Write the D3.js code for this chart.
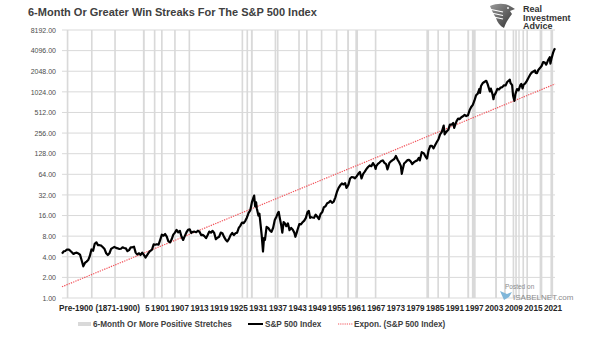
<!DOCTYPE html>
<html lang="en">
<head>
<meta charset="utf-8">
<title>6-Month Win Streaks S&amp;P 500</title>
<script src="https://cdn.jsdelivr.net/npm/d3@7/dist/d3.min.js"></script>
<style>
body { margin: 0; background: #fff; }
text { font-family: "Liberation Sans", Arial, sans-serif; }
.ylab text { font-size: 7px; fill: #4d4d4d; }
.xlab { font-size: 8.2px; font-weight: bold; fill: #262626; }
.leg { font-size: 8.2px; font-weight: bold; fill: #404040; }
</style>
</head>
<body>
<script>
// S&P 500 index, [decimal year, level]
var spx = [
 [1871.0,4.44],[1871.5,4.8],[1872.0,4.86],[1872.5,5.1],[1873.0,5.11],[1873.5,4.9],[1874.0,4.66],[1874.5,4.4],
 [1875.0,4.54],[1875.5,4.6],[1876.0,4.46],[1876.5,4.3],[1877.0,3.55],[1877.5,2.9],[1878.0,3.25],[1878.5,3.4],
 [1879.0,3.58],[1879.5,4.1],[1880.0,5.11],[1880.5,4.9],[1881.0,6.19],[1881.5,6.5],[1882.0,5.92],[1882.5,5.9],
 [1883.0,5.81],[1883.5,5.5],[1884.0,5.18],[1884.5,4.5],[1885.0,4.24],[1885.5,4.5],[1886.0,5.2],[1886.5,5.4],
 [1887.0,5.58],[1887.5,5.4],[1888.0,5.31],[1888.5,5.2],[1889.0,5.24],[1889.5,5.5],[1890.0,5.38],[1890.5,5.3],
 [1891.0,4.84],[1891.5,5.0],[1892.0,5.51],[1892.5,5.5],[1893.0,5.61],[1893.5,4.6],[1894.0,4.32],[1894.5,4.5],
 [1895.0,4.25],[1895.5,4.6],[1896.0,4.27],[1896.5,3.9],[1897.0,4.22],[1897.5,4.6],[1898.0,4.88],[1898.5,5.1],
 [1899.0,6.08],[1899.5,6.0],[1900.0,6.1],[1900.5,6.0],[1901.0,7.07],[1901.5,8.4],[1902.0,8.12],[1902.5,8.6],
 [1903.0,7.86],[1903.5,6.7],[1904.0,6.48],[1904.5,7.2],[1905.0,8.43],[1905.5,9.0],[1906.0,9.87],[1906.5,9.1],
 [1907.0,9.56],[1907.5,7.9],[1908.0,7.04],[1908.5,8.0],[1909.0,9.06],[1909.5,9.9],[1910.0,10.08],[1910.5,8.9],
 [1911.0,9.27],[1911.5,9.3],[1912.0,9.12],[1912.5,9.6],[1913.0,9.3],[1913.5,8.3],[1914.0,8.37],[1914.5,8.0],
 [1915.0,7.48],[1915.5,8.3],[1916.0,9.33],[1916.5,9.0],[1917.0,9.57],[1917.5,8.9],[1918.0,7.21],[1918.5,7.6],
 [1919.0,7.85],[1919.5,9.0],[1920.0,8.83],[1920.5,7.8],[1921.0,7.11],[1921.5,6.7],[1922.0,7.3],[1922.5,8.3],
 [1923.0,8.9],[1923.5,8.3],[1924.0,8.83],[1924.5,9.0],[1925.0,10.58],[1925.5,11.4],[1926.0,12.65],[1926.5,12.4],
 [1927.0,13.4],[1927.5,15.0],[1928.0,17.53],[1928.5,19.0],[1929.0,24.86],[1929.5,29.5],[1929.7,31.3],[1930.0,21.71],
 [1930.3,25.0],[1930.5,20.5],[1931.0,15.98],[1931.3,17.0],[1931.5,14.0],[1932.0,8.3],[1932.4,4.77],[1932.7,7.5],
 [1933.0,7.09],[1933.5,10.9],[1934.0,10.54],[1934.5,9.7],[1935.0,9.26],[1935.5,10.6],[1936.0,13.76],[1936.5,15.4],
 [1937.0,17.59],[1937.2,18.1],[1937.5,15.0],[1938.0,11.31],[1938.3,9.0],[1938.7,12.8],[1939.0,12.5],[1939.5,11.2],
 [1940.0,12.3],[1940.5,9.8],[1941.0,10.55],[1941.5,9.9],[1942.0,8.93],[1942.3,7.84],[1942.7,9.0],[1943.0,10.09],
 [1943.5,12.0],[1944.0,11.85],[1944.5,12.8],[1945.0,13.49],[1945.5,14.8],[1946.0,18.02],[1946.4,18.7],[1946.8,14.8],
 [1947.0,15.21],[1947.5,15.0],[1948.0,14.83],[1948.5,16.5],[1949.0,15.36],[1949.5,14.2],[1950.0,16.88],[1950.5,18.0],
 [1951.0,21.21],[1951.5,21.8],[1952.0,24.19],[1952.5,24.8],[1953.0,26.18],[1953.5,24.5],[1954.0,25.46],[1954.5,29.5],
 [1955.0,35.6],[1955.5,40.5],[1956.0,44.15],[1956.5,47.0],[1957.0,45.43],[1957.5,47.4],[1957.9,40.4],[1958.0,41.12],
 [1958.5,45.2],[1959.0,55.62],[1959.5,58.4],[1960.0,58.03],[1960.5,56.0],[1961.0,59.72],[1961.5,65.0],[1962.0,69.07],
 [1962.5,55.6],[1963.0,65.06],[1963.5,69.9],[1964.0,76.45],[1964.5,81.6],[1965.0,86.12],[1965.5,84.0],[1966.0,93.32],
 [1966.5,86.0],[1966.8,76.6],[1967.0,84.45],[1967.5,91.0],[1968.0,95.04],[1968.5,100.0],[1969.0,102.0],[1969.5,94.0],
 [1970.0,90.31],[1970.4,75.6],[1970.7,83.0],[1971.0,93.49],[1971.5,99.0],[1972.0,103.3],[1972.5,107.0],[1973.0,118.4],
 [1973.5,105.0],[1974.0,96.11],[1974.5,85.0],[1974.8,65.0],[1975.0,72.56],[1975.5,92.0],[1976.0,96.86],[1976.5,103.0],
 [1977.0,103.8],[1977.5,99.0],[1978.0,90.25],[1978.5,96.0],[1979.0,99.71],[1979.5,102.0],[1980.0,110.9],[1980.3,102.0],
 [1980.9,135.0],[1981.0,132.97],[1981.5,130.0],[1982.0,117.3],[1982.5,109.0],[1983.0,144.3],[1983.5,166.0],[1984.0,166.4],
 [1984.5,153.0],[1985.0,171.6],[1985.5,190.0],[1986.0,208.2],[1986.5,245.0],[1987.0,264.5],[1987.6,329.0],[1987.9,245.0],
 [1988.0,250.5],[1988.5,270.0],[1989.0,285.4],[1989.5,340.0],[1990.0,339.97],[1990.5,360.0],[1990.8,305.0],[1991.0,325.5],
 [1991.5,380.0],[1992.0,416.1],[1992.5,410.0],[1993.0,435.2],[1993.5,450.0],[1994.0,472.99],[1994.5,454.0],[1995.0,465.25],
 [1995.5,550.0],[1996.0,614.42],[1996.5,660.0],[1997.0,766.22],[1997.5,915.0],[1998.0,963.36],[1998.5,1130.0],[1998.7,990.0],
 [1999.0,1248.8],[1999.5,1370.0],[2000.0,1425.6],[2000.6,1485.0],[2001.0,1335.6],[2001.7,1040.0],[2002.0,1140.2],[2002.5,950.0],
 [2002.8,800.0],[2003.0,895.8],[2003.5,990.0],[2004.0,1132.5],[2004.5,1110.0],[2005.0,1181.4],[2005.5,1200.0],[2006.0,1278.7],
 [2006.5,1270.0],[2007.0,1424.2],[2007.5,1500.0],[2007.8,1540.0],[2008.0,1378.8],[2008.5,1280.0],[2008.8,900.0],[2009.2,757.0],
 [2009.5,950.0],[2010.0,1123.6],[2010.5,1080.0],[2011.0,1282.6],[2011.3,1340.0],[2011.7,1150.0],[2012.0,1300.6],[2012.5,1360.0],
 [2013.0,1480.4],[2013.5,1640.0],[2014.0,1822.4],[2014.5,1960.0],[2015.0,2028.2],[2015.5,2100.0],[2015.7,1940.0],[2016.1,1918.6],
 [2016.5,2140.0],[2017.0,2275.0],[2017.5,2440.0],[2018.0,2789.8],[2018.5,2740.0],[2018.9,2567.0],[2019.0,2607.0],[2019.5,2980.0],
 [2020.0,3278.0],[2020.2,2652.0],[2020.5,3100.0],[2021.0,3793.0],[2021.3,4150.0],[2021.6,4430.0]
];

// 6-month-or-more positive stretches: start year and length in months
var streakStart  = [1872.45,1879.85,1886.95,1895.7,1899.05,1901.25,1905.25,1909.65,1925.85,1927.35,1928.7,1935.95,1936.65,
                    1943.15,1945.55,1950.05,1954.65,1958.1,1960.6,1966.55,1982.3,1985.65,1988.9,1994.8,1996.2,2003.3,
                    2006.0,2008.65,2009.45,2010.4,2011.65,2012.85,2016.9,2020.2];
var streakMonths = [6,6,6,7,6,6,6,6,6,6,7,6,6,6,6,6,6,7,10,6,10,6,7,7,14,7,7,6,6,5,6,6,10,10];

// exponential trend end points [year, level]
var trendYears  = [1871, 2021.6];
var trendValues = [1.46, 1333];

var yTicks = [1,2,4,8,16,32,64,128,256,512,1024,2048,4096,8192];
var xTickYears = [1895,1901,1907,1913,1919,1925,1931,1937,1943,1949,1955,1961,1967,1973,1979,1985,1991,1997,2003,2009,2015,2021];

(function(){
    var w = 605, h = 341;
    var pL = 62, pR = 555, pT = 30, pB = 298;

    var svg = d3.select("body").append("svg")
        .attr("width", w).attr("height", h)
        .style("background-color", "#fff");
    var defs = svg.append("defs");

    var x = d3.scaleLinear().domain([1871, 2021.6]).range([pL, pR]);
    var y = d3.scaleLog().base(2).domain([1, 8192]).range([pB, pT]);

    // title
    svg.append("text")
        .attr("x", 28).attr("y", 15.8)
        .style("font-size", "11px").style("font-weight", "bold").style("fill", "#404040")
        .text("6-Month Or Greater Win Streaks For The S&P 500 Index");

    // horizontal grid
    svg.append("g").selectAll("line").data(yTicks).enter().append("line")
        .attr("x1", pL).attr("x2", pR)
        .attr("y1", function(d){ return y(d); }).attr("y2", function(d){ return y(d); })
        .style("stroke", "#d9d9d9").style("stroke-width", 1);

    // streak bands
    svg.append("g").selectAll("rect").data(streakStart).enter().append("rect")
        .attr("x", function(d){ return x(d); })
        .attr("width", function(d, i){ return x(d + streakMonths[i] / 12) - x(d); })
        .attr("y", pT).attr("height", pB - pT)
        .style("fill", "#d9d9d9");

    // y axis labels
    var yAxis = d3.axisLeft(y).tickValues(yTicks).tickFormat(d3.format(".2f")).tickSize(0).tickPadding(6);
    var yg = svg.append("g").attr("class", "ylab").attr("transform", "translate(" + pL + ",0)").call(yAxis);
    yg.select(".domain").remove();
    yg.selectAll("text").attr("font-family", null).attr("font-size", null);

    // x labels; the first one sits under the Pre-1900 box, only its tail shows
    defs.append("clipPath").attr("id", "xclip")
        .append("rect").attr("x", 145.5).attr("y", 295).attr("width", 460).attr("height", 20);
    svg.append("g").attr("clip-path", "url(#xclip)")
        .selectAll("text").data(xTickYears).enter().append("text")
        .attr("class", "xlab")
        .attr("x", function(d){ return x(d); }).attr("y", 310.8)
        .attr("text-anchor", "middle")
        .text(function(d){ return d; });

    svg.append("text").attr("class", "xlab")
        .attr("x", 59).attr("y", 310.8)
        .text("Pre-1900 (1871-1900)");

    // trend line
    svg.append("path")
        .datum(d3.zip(trendYears, trendValues))
        .attr("d", d3.line().x(function(d){ return x(d[0]); }).y(function(d){ return y(d[1]); }))
        .style("fill", "none").style("stroke", "#f2545b").style("stroke-width", 1.2)
        .style("stroke-dasharray", "1.3,1.1");

    // index line
    svg.append("path")
        .datum(spx)
        .attr("d", d3.line().x(function(d){ return x(d[0]); }).y(function(d){ return y(d[1]); }))
        .style("fill", "none").style("stroke", "#000").style("stroke-width", 2.2)
        .style("stroke-linejoin", "round");

    // legend
    var lg = svg.append("g");
    lg.append("rect").attr("x", 78).attr("y", 322).attr("width", 13).attr("height", 4).style("fill", "#d9d9d9");
    lg.append("text").attr("class", "leg").attr("x", 93).attr("y", 327.3).text("6-Month Or More Positive Stretches");
    lg.append("line").attr("x1", 248).attr("x2", 263).attr("y1", 324).attr("y2", 324)
        .style("stroke", "#000").style("stroke-width", 2);
    lg.append("text").attr("class", "leg").attr("x", 265).attr("y", 327.3).text("S&P 500 Index");
    lg.append("line").attr("x1", 338).attr("x2", 353).attr("y1", 324).attr("y2", 324)
        .style("stroke", "#f2545b").style("stroke-width", 1).style("stroke-dasharray", "1.2,1");
    lg.append("text").attr("class", "leg").attr("x", 354).attr("y", 327.3).text("Expon. (S&P 500 Index)");

    // logo
    var logo = svg.append("g").attr("transform", "translate(489,3)");
    var grad = defs.append("linearGradient").attr("id", "eg")
        .attr("x1", 0).attr("y1", 0).attr("x2", 1).attr("y2", 1);
    grad.append("stop").attr("offset", 0).attr("stop-color", "#9a9a9a");
    grad.append("stop").attr("offset", 1).attr("stop-color", "#2f2f2f");
    logo.append("path")
        .attr("d", "M1,3 C8,0 16,0 21,3 L26,6 L21,8 L23,11 C20,15 17,19 15,25 C11,23 8,19 7,15 C5,12 3,8 1,3 Z")
        .style("fill", "url(#eg)");
    [6, 9.5, 13].forEach(function(yy){
        logo.append("line").attr("x1", 0).attr("x2", 14).attr("y1", yy).attr("y2", yy + 3)
            .style("stroke", "#fff").style("stroke-width", 1.2);
    });
    logo.append("circle").attr("cx", 19).attr("cy", 5).attr("r", 0.9).style("fill", "#fff");
    var lt = svg.append("g").style("font-size", "9px").style("font-weight", "bold").style("fill", "#333");
    lt.append("text").attr("x", 523).attr("y", 12).text("Real");
    lt.append("text").attr("x", 523).attr("y", 20.5).text("Investment");
    lt.append("text").attr("x", 523).attr("y", 29).text("Advice");

    // watermark
    svg.append("text").attr("x", 505).attr("y", 288.5).style("font-size", "6.5px").style("fill", "#8c8c8c").text("Posted on");
    svg.append("path").attr("d", "M500,291 L507,294 L512,292 L509,297 L504,300 Z").style("fill", "#7fb6d9");
    svg.append("text").attr("x", 513).attr("y", 299.5).style("font-size", "8px").style("fill", "#8c8c8c").text("ISABELNET.com");
})();
</script>
</body>
</html>
